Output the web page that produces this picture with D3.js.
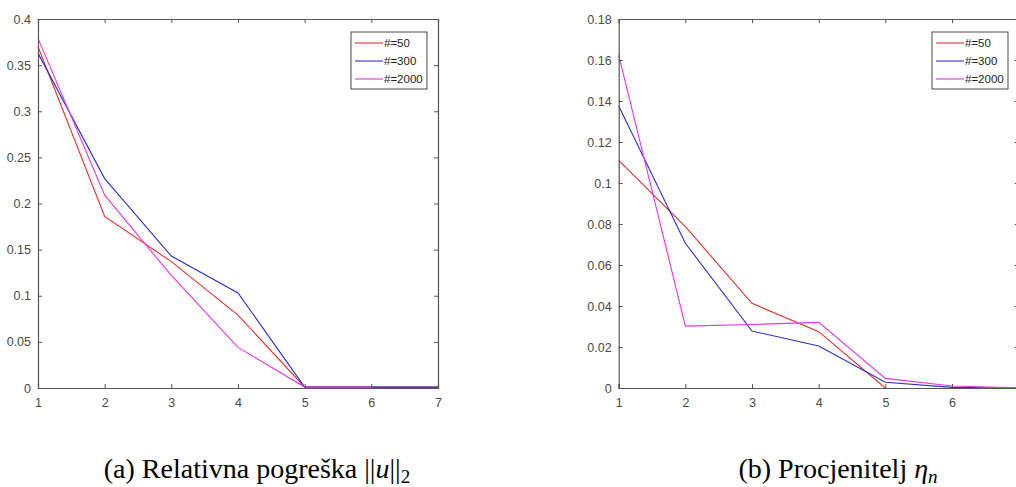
<!DOCTYPE html>
<html>
<head>
<meta charset="utf-8">
<script src="https://cdn.jsdelivr.net/npm/d3@7"></script>
<style>
  body { margin: 0; background: #fff; }
  svg { display: block; }
  .tick text { font-family: "Liberation Sans", Arial, sans-serif; font-size: 12.5px; fill: #4a4a4a; }
</style>
</head>
<body>
<svg id="fig" width="1016" height="487"></svg>
<script>
// iteration index on x
var iters = [1, 2, 3, 4, 5, 6, 7];
var seriesNames = ['#=50', '#=300', '#=2000'];
var seriesColors = ['#e0302c', '#2e2ec8', '#e236e6'];

// (a) relative error
var errN50 = [0.370, 0.186, 0.137, 0.079, 0.001, 0.001, 0.001];
var errN300 = [0.363, 0.227, 0.143, 0.103, 0.001, 0.001, 0.001];
var errN2000 = [0.379, 0.209, 0.122, 0.044, 0.001, 0.001];
var errTicks = [0, 0.05, 0.1, 0.15, 0.2, 0.25, 0.3, 0.35, 0.4];

// (b) estimator eta_n
var estN50 = [0.111, 0.0787, 0.0413, 0.0275, 0];
var estN300 = [0.1376, 0.0706, 0.0278, 0.0205, 0.0028, 0.0003, 0];
var estN2000 = [0.1624, 0.0302, 0.031, 0.032, 0.0047, 0.001, 0];
var estTicks = [0, 0.02, 0.04, 0.06, 0.08, 0.1, 0.12, 0.14, 0.16, 0.18];

var svg = d3.select('#fig');
var W = 1016;
var axisColor = '#555';

function drawPanel(left, yMax, yTicks, series, legendX) {
  var top = 19, bottom = 388, w = 400;
  var x = d3.scaleLinear().domain([1, 7]).range([left, left + w]);
  var y = d3.scaleLinear().domain([0, yMax]).range([bottom, top]);
  var g = svg.append('g');

  // data lines
  var line = d3.line()
    .x(function(d, i) { return x(iters[i]); })
    .y(function(d) { return y(d); });
  series.forEach(function(s, k) {
    g.append('path')
      .attr('d', line(s))
      .attr('fill', 'none')
      .attr('stroke', seriesColors[k])
      .attr('stroke-width', 1.1);
  });

  // box axes, ticks pointing inward
  var fmt = function(d) { return d3.format('~g')(d); };
  // labels that would sit past the page edge are not shown (cropped in the original)
  var xFmt = function(d) { return x(d) > W - 4 ? '' : d3.format('d')(d); };
  var bx = g.append('g').attr('transform', 'translate(0,' + bottom + ')')
    .call(d3.axisBottom(x).tickValues(iters).tickSize(-4).tickPadding(8).tickFormat(xFmt));
  var tx = g.append('g').attr('transform', 'translate(0,' + top + ')')
    .call(d3.axisTop(x).tickValues(iters).tickSize(-4).tickFormat(''));
  var ly = g.append('g').attr('transform', 'translate(' + left + ',0)')
    .call(d3.axisLeft(y).tickValues(yTicks).tickSize(-4).tickPadding(7).tickFormat(fmt));
  var ry = g.append('g').attr('transform', 'translate(' + (left + w) + ',0)')
    .call(d3.axisRight(y).tickValues(yTicks).tickSize(-4).tickFormat(''));
  [bx, tx, ly, ry].forEach(function(a) {
    a.selectAll('.domain').attr('stroke', axisColor).attr('stroke-width', 1.2);
    a.selectAll('.tick line').attr('stroke', axisColor);
  });
  bx.selectAll('.tick text').attr('dy', '0.85em');

  // legend
  var lg = g.append('g').attr('transform', 'translate(' + legendX + ',32)');
  lg.append('rect').attr('width', 76).attr('height', 57)
    .attr('fill', '#fff').attr('stroke', '#333').attr('stroke-width', 0.9);
  seriesNames.forEach(function(n, k) {
    var yy = 11 + k * 18;
    lg.append('line').attr('x1', 4).attr('x2', 32).attr('y1', yy).attr('y2', yy)
      .attr('stroke', seriesColors[k]).attr('stroke-width', 1.1);
    lg.append('text').attr('x', 33).attr('y', yy + 4)
      .attr('font-family', '"Liberation Sans", Arial, sans-serif')
      .attr('font-size', 11.5).attr('fill', '#222').text(n);
  });
}

drawPanel(38, 0.4, errTicks, [errN50, errN300, errN2000], 351);
drawPanel(618.7, 0.18, estTicks, [estN50, estN300, estN2000], 932);

// captions
var capFont = '"Liberation Serif", "Times New Roman", serif';
var capA = svg.append('text').attr('x', 257).attr('y', 478)
  .attr('text-anchor', 'middle').attr('font-family', capFont).attr('font-size', 28).attr('fill', '#000');
capA.append('tspan').text('(a) Relativna pogreška ||');
capA.append('tspan').attr('font-style', 'italic').text('u');
capA.append('tspan').text('||');
capA.append('tspan').attr('font-size', 19).attr('dy', 5).text('2');

var capB = svg.append('text').attr('x', 838).attr('y', 478)
  .attr('text-anchor', 'middle').attr('font-family', capFont).attr('font-size', 28).attr('fill', '#000');
capB.append('tspan').text('(b) Procjenitelj ');
capB.append('tspan').attr('font-style', 'italic').text('η');
capB.append('tspan').attr('font-style', 'italic').attr('font-size', 19).attr('dy', 5).text('n');
</script>
</body>
</html>
